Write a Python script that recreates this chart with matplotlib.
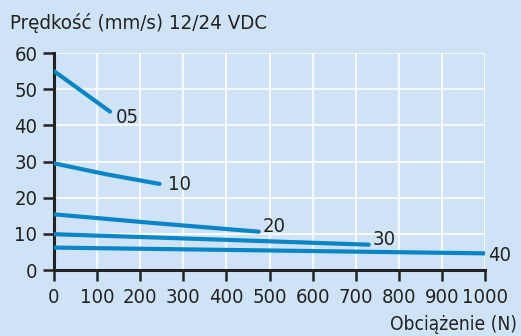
import numpy as np
import matplotlib.pyplot as plt

plt.rcParams["font.family"] = ["DejaVu Sans"]
plt.rcParams["font.stretch"] = "condensed"

# Data
load_05 = [0, 130]
speed_05 = [55, 43.8]
load_10 = [0, 120, 245]
speed_10 = [29.5, 26.5, 23.8]
load_20 = [0, 240, 475]
speed_20 = [15.4, 12.9, 10.6]
load_30 = [0, 360, 730]
speed_30 = [9.9, 8.5, 7.0]
load_40 = [0, 500, 1000]
speed_40 = [6.2, 5.4, 4.6]
names = ["05", "10", "20", "30", "40"]

bg = "#cfe3f6"
blue = "#0a86c6"
ink = "#222222"

fig = plt.figure(figsize=(5.21, 3.36), dpi=100, facecolor=bg)
ax = fig.add_axes([0.1036, 0.1964, 0.8275, 0.6458], facecolor=bg)

series = [(load_05, speed_05), (load_10, speed_10), (load_20, speed_20),
          (load_30, speed_30), (load_40, speed_40)]
# label offsets in pixels from the end of each curve
offsets = [(6, -6), (8, -1), (4, 5), (4, 5), (3, -2)]
for (xs, ys), name, off in zip(series, names, offsets):
    ax.plot(xs, ys, color=blue, lw=3, solid_capstyle="round", zorder=3)
    ax.annotate(name, (xs[-1], ys[-1]), xytext=off, textcoords="offset pixels",
                fontsize=14.5, color=ink, va="center", ha="left")

ax.set_xlim(0, 1000)
ax.set_ylim(0, 60)
ax.set_xticks(np.arange(0, 1001, 100))
ax.set_yticks(np.arange(0, 61, 10))
ax.grid(True, color="white", lw=1.2)
ax.set_axisbelow(True)
for s in ["top", "right"]:
    ax.spines[s].set_visible(False)
for s in ["left", "bottom"]:
    ax.spines[s].set_linewidth(2.2)
    ax.spines[s].set_color(ink)
ax.tick_params(direction="out", length=8, width=1.8, color=ink,
               labelsize=14.5, labelcolor=ink)
ax.tick_params(axis="x", pad=5)
ax.tick_params(axis="y", pad=4)

fig.text(0.02, 0.932, "Prędkość (mm/s) 12/24 VDC", fontsize=14.7, color=ink,
         ha="left", va="center")
fig.text(0.993, 0.035, "Obciążenie (N)", fontsize=13.8, color=ink,
         ha="right", va="center")

fig.savefig("out.png", dpi=100, facecolor=bg)
